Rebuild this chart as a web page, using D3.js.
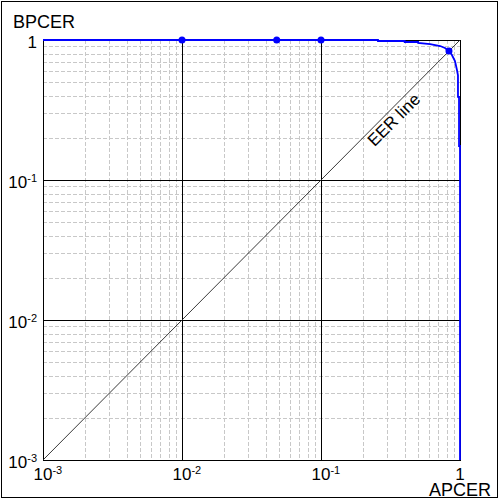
<!DOCTYPE html>
<head>
    <meta charset="utf-8">
    <script src="https://d3js.org/d3.v7.min.js"></script>
    <style>
        body { margin: 0; background: #fff; }
        svg text { font-family: "Liberation Sans", Arial, sans-serif; fill: #000; }
        .minor { stroke: #c8c8c8; stroke-width: 1; stroke-dasharray: 4,2; shape-rendering: crispEdges; }
        .major { stroke: #000; stroke-width: 1; shape-rendering: crispEdges; }
    </style>
</head>
<body>
<script>
    // DET curve (APCER vs BPCER)
    var apcer = [0.001, 0.257, 0.257, 0.40, 0.40, 0.50, 0.50, 0.61, 0.72, 0.78, 0.833, 0.875, 0.92, 0.951, 0.967, 0.967, 0.984, 0.984, 1, 1];
    var bpcer = [1, 1, 0.984, 0.984, 0.968, 0.968, 0.952, 0.936, 0.906, 0.877, 0.835, 0.781, 0.708, 0.61, 0.56, 0.392, 0.392, 0.175, 0.175, 0.001];
    // marked operating points
    var markA = [0.01, 0.048, 0.1, 0.833];
    var markB = [1, 1, 1, 0.835];
    var decades = [0.001, 0.01, 0.1, 1];
    var expLabels = ["-3", "-2", "-1", ""];

    var W = 500, H = 500;
    var x = d3.scaleLog().domain([1e-3, 1]).range([43, 460]),
        y = d3.scaleLog().domain([1e-3, 1]).range([460, 40]);

    var svg = d3.select("body").append("svg")
        .attr("width", W)
        .attr("height", H);

    svg.append("rect")
        .attr("x", 1.5).attr("y", 1.5)
        .attr("width", 496).attr("height", 496)
        .attr("fill", "none").attr("stroke", "#000");

    var minor = [];
    decades.slice(0, 3).forEach(function(d) {
        for (var k = 2; k <= 9; k++) minor.push(k * d);
    });

    var g = svg.append("g");
    g.selectAll("line.mx").data(minor).enter().append("line")
        .attr("class", "minor")
        .attr("x1", function(d) { return Math.round(x(d)) + 0.5; })
        .attr("x2", function(d) { return Math.round(x(d)) + 0.5; })
        .attr("y1", y(1)).attr("y2", y(1e-3));
    g.selectAll("line.my").data(minor).enter().append("line")
        .attr("class", "minor")
        .attr("y1", function(d) { return Math.round(y(d)) + 0.5; })
        .attr("y2", function(d) { return Math.round(y(d)) + 0.5; })
        .attr("x1", x(1e-3)).attr("x2", x(1));

    var major = [0.01, 0.1];
    g.selectAll("line.Mx").data(major).enter().append("line")
        .attr("class", "major")
        .attr("x1", function(d) { return Math.round(x(d)) + 0.5; })
        .attr("x2", function(d) { return Math.round(x(d)) + 0.5; })
        .attr("y1", y(1)).attr("y2", y(1e-3));
    g.selectAll("line.My").data(major).enter().append("line")
        .attr("class", "major")
        .attr("y1", function(d) { return Math.round(y(d)) + 0.5; })
        .attr("y2", function(d) { return Math.round(y(d)) + 0.5; })
        .attr("x1", x(1e-3)).attr("x2", x(1));

    // frame
    svg.append("rect")
        .attr("x", x(1e-3) + 0.5).attr("y", y(1) + 0.5)
        .attr("width", x(1) - x(1e-3)).attr("height", y(1e-3) - y(1))
        .attr("fill", "none").attr("stroke", "#000")
        .style("shape-rendering", "crispEdges");

    // EER line
    svg.append("line")
        .attr("x1", x(1e-3)).attr("y1", y(1e-3))
        .attr("x2", x(1)).attr("y2", y(1))
        .attr("stroke", "#222").attr("stroke-width", 0.9);

    svg.append("text")
        .attr("transform", "translate(" + x(0.3) + "," + y(0.3) + ") rotate(-45)")
        .attr("y", 15)
        .attr("text-anchor", "middle")
        .style("font-size", "17px")
        .text("EER line");

    // DET curve
    var pts = apcer.map(function(a, i) { return [a, bpcer[i]]; });
    svg.append("path")
        .datum(pts)
        .attr("d", d3.line().x(function(d) { return x(d[0]); }).y(function(d) { return y(d[1]); }))
        .attr("fill", "none")
        .attr("stroke", "#0000ff")
        .attr("stroke-width", 1.8);

    svg.selectAll("circle.mark").data(markA).enter().append("circle")
        .attr("cx", function(d) { return x(d); })
        .attr("cy", function(d, i) { return y(markB[i]); })
        .attr("r", 3.5)
        .attr("fill", "#0000ff");

    // tick labels
    var yl = svg.selectAll("text.yl").data(decades).enter().append("text")
        .attr("x", 37)
        .attr("y", function(d) { return y(d) + 8; })
        .attr("text-anchor", "end")
        .style("font-size", "17px");
    yl.append("tspan").text(function(d, i) { return expLabels[i] ? "10" : "1"; });
    yl.append("tspan").attr("dy", -6).style("font-size", "11px")
        .text(function(d, i) { return expLabels[i]; });

    var xl = svg.selectAll("text.xl").data(decades).enter().append("text")
        .attr("x", function(d, i) { return x(d) - (expLabels[i] ? 9.5 : 4.7); })
        .attr("y", y(1e-3) + 20)
        .style("font-size", "17px");
    xl.append("tspan").text(function(d, i) { return expLabels[i] ? "10" : "1"; });
    xl.append("tspan").attr("dy", -6).style("font-size", "11px")
        .text(function(d, i) { return expLabels[i]; });

    // axis titles
    svg.append("text").attr("x", 13).attr("y", 28)
        .style("font-size", "18px").text("BPCER");
    svg.append("text").attr("x", 429).attr("y", 496)
        .style("font-size", "18px").text("APCER");
</script>
</body>
